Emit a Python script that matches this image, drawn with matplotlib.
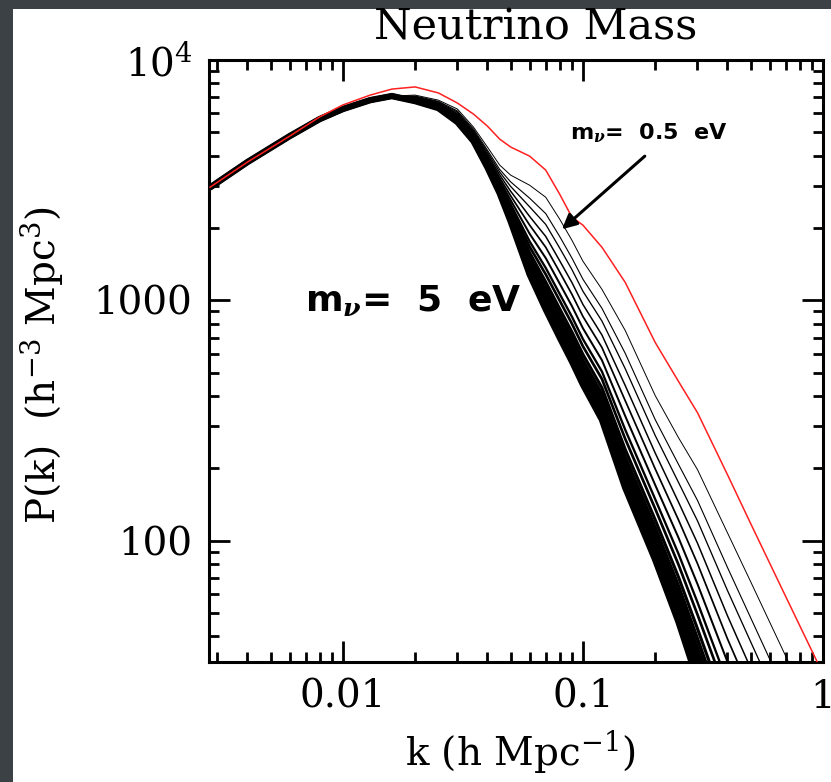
import numpy as np
import matplotlib
matplotlib.use("Agg")
import matplotlib.pyplot as plt
from matplotlib.patches import Rectangle
from matplotlib.ticker import LogLocator, NullFormatter

SLIDE_BG = "#3b4145"
RED = "#ff2020"

plt.rcParams["font.family"] = "DejaVu Serif"
plt.rcParams["mathtext.fontset"] = "dejavuserif"

# k (h/Mpc) where all the massive-neutrino spectra still coincide
k_low = [0.0028, 0.004, 0.006, 0.008, 0.01, 0.013, 0.016]
logp_low = [3.47, 3.575, 3.683, 3.754, 3.796, 3.833, 3.85]

# k past the turnover, where the spectra fan out
k_high = [0.02, 0.025, 0.03, 0.035, 0.04, 0.045, 0.05, 0.06, 0.07, 0.08,
          0.09, 0.1, 0.12, 0.15, 0.2, 0.25, 0.3, 0.4, 0.5, 0.8]

# log10 P(k) on k_high, from the heaviest neutrino (5 eV) to the lightest (0.5 eV)
logp_5ev = [3.829, 3.800, 3.742, 3.663, 3.554, 3.446, 3.329, 3.108, 2.963, 2.846,
            2.746, 2.650, 2.504, 2.221, 1.921, 1.663, 1.421, 1.046, 0.800, 0.300]
logp_f01 = [3.830, 3.802, 3.745, 3.666, 3.558, 3.452, 3.338, 3.126, 2.986, 2.870,
            2.771, 2.675, 2.531, 2.253, 1.954, 1.700, 1.464, 1.094, 0.850, 0.354]
logp_f02 = [3.831, 3.803, 3.747, 3.668, 3.562, 3.457, 3.348, 3.144, 3.008, 2.894,
            2.795, 2.700, 2.557, 2.284, 1.987, 1.737, 1.506, 1.142, 0.900, 0.406]
logp_f03 = [3.833, 3.805, 3.750, 3.671, 3.566, 3.463, 3.357, 3.162, 3.031, 2.918,
            2.820, 2.725, 2.583, 2.316, 2.021, 1.774, 1.549, 1.190, 0.950, 0.460]
logp_f04 = [3.834, 3.806, 3.752, 3.674, 3.570, 3.469, 3.366, 3.180, 3.053, 2.941,
            2.844, 2.749, 2.609, 2.348, 2.054, 1.811, 1.591, 1.237, 1.000, 0.513]
logp_f05 = [3.835, 3.808, 3.755, 3.677, 3.574, 3.474, 3.376, 3.198, 3.076, 2.965,
            2.868, 2.775, 2.636, 2.380, 2.087, 1.849, 1.634, 1.286, 1.050, 0.566]
logp_f06 = [3.837, 3.810, 3.759, 3.681, 3.580, 3.482, 3.389, 3.223, 3.108, 2.999,
            2.903, 2.809, 2.673, 2.424, 2.133, 1.901, 1.693, 1.353, 1.120, 0.641]
logp_f07 = [3.838, 3.812, 3.762, 3.685, 3.585, 3.489, 3.400, 3.245, 3.135, 3.027,
            2.932, 2.839, 2.704, 2.462, 2.173, 1.946, 1.744, 1.410, 1.180, 0.704]
logp_f08 = [3.840, 3.815, 3.767, 3.690, 3.592, 3.499, 3.417, 3.277, 3.176, 3.070,
            2.976, 2.884, 2.751, 2.519, 2.232, 2.013, 1.820, 1.496, 1.269, 0.800]
logp_f09 = [3.843, 3.818, 3.772, 3.695, 3.600, 3.510, 3.435, 3.313, 3.221, 3.118,
            3.025, 2.933, 2.804, 2.583, 2.299, 2.087, 1.905, 1.592, 1.369, 0.906]
logp_f10 = [3.845, 3.821, 3.777, 3.701, 3.608, 3.522, 3.454, 3.349, 3.266, 3.165,
            3.074, 2.983, 2.856, 2.646, 2.365, 2.161, 1.990, 1.688, 1.469, 1.012]
logp_f11 = [3.848, 3.825, 3.783, 3.707, 3.617, 3.534, 3.474, 3.389, 3.316, 3.218,
            3.128, 3.038, 2.914, 2.716, 2.438, 2.243, 2.083, 1.793, 1.579, 1.130]
logp_f12 = [3.850, 3.828, 3.788, 3.713, 3.625, 3.545, 3.493, 3.425, 3.361, 3.266,
            3.176, 3.088, 2.967, 2.780, 2.504, 2.318, 2.168, 1.889, 1.679, 1.236]
logp_05ev = [3.854, 3.833, 3.796, 3.721, 3.638, 3.563, 3.521, 3.479, 3.429, 3.338,
             3.250, 3.163, 3.046, 2.875, 2.604, 2.429, 2.296, 2.033, 1.829, 1.396]

# massless-neutrino reference spectrum
k_red = [0.0028, 0.004, 0.006, 0.008, 0.01, 0.013, 0.016, 0.02, 0.025, 0.03, 0.035,
         0.04, 0.045, 0.05, 0.06, 0.07, 0.08, 0.09, 0.1, 0.12, 0.15, 0.2, 0.25, 0.3,
         0.4, 0.5, 0.7, 1.0]
logp_red = [3.471, 3.575, 3.683, 3.763, 3.813, 3.854, 3.879, 3.888, 3.863, 3.821,
            3.775, 3.725, 3.671, 3.638, 3.600, 3.542, 3.442, 3.346, 3.313, 3.221,
            3.075, 2.825, 2.663, 2.533, 2.275, 2.071, 1.767, 1.446]

x_ticks = [0.01, 0.1, 1]
x_ticklabels = ["0.01", "0.1", "1"]
y_ticks = [100, 1000, 1e4]
y_ticklabels = ["100", "1000", r"$10^4$"]

fan = [logp_5ev, logp_f01, logp_f02, logp_f03, logp_f04, logp_f05, logp_f06,
       logp_f07, logp_f08, logp_f09, logp_f10, logp_f11, logp_f12, logp_05ev]

W, H = 831, 782
fig = plt.figure(figsize=(W / 100, H / 100), dpi=100, facecolor=SLIDE_BG)
fig.patches.append(Rectangle((13 / W, 0), 1, 1 - 9 / H, transform=fig.transFigure,
                             facecolor="white", edgecolor="none", zorder=-10))

ax = fig.add_axes([209 / W, 1 - 662 / H, 614 / W, 602 / H])
ax.patch.set_alpha(0)
ax.set_xscale("log")
ax.set_yscale("log")
ax.set_xlim(0.00277, 1.0)
ax.set_ylim(31.3, 1.0e4)

# thickest line for the heaviest neutrino, thinning towards 0.5 eV
widths = np.geomspace(4.6, 0.7, len(fan))
k_all = np.concatenate([k_low, k_high])
for i, lp in enumerate(fan):
    p = 10 ** np.concatenate([logp_low, lp])
    ax.plot(k_all, p, color="black", lw=widths[i], solid_joinstyle="round",
            solid_capstyle="round", zorder=2 + i * 0.01)
ax.plot(k_red, 10 ** np.array(logp_red), color=RED, lw=1.1, zorder=3)

ax.set_xticks(x_ticks)
ax.set_xticklabels(x_ticklabels)
ax.set_yticks(y_ticks)
ax.set_yticklabels(y_ticklabels)
for axis in (ax.xaxis, ax.yaxis):
    axis.set_minor_locator(LogLocator(base=10, subs=np.arange(2, 10), numticks=20))
    axis.set_minor_formatter(NullFormatter())
ax.tick_params(which="both", direction="in", top=True, right=True, width=2.0,
               labelsize=28)
ax.tick_params(which="major", length=15, pad=12)
ax.tick_params(which="minor", length=7.5)
for s in ax.spines.values():
    s.set_linewidth(2.2)

# labels
fig.text(536 / W, 1 - 27 / H, "Neutrino Mass", ha="center", va="center", fontsize=31)
fig.text(520 / W, 1 - 752 / H, r"k (h Mpc$^{-1}$)", ha="center", va="center", fontsize=28)
fig.text(42 / W, 1 - 365 / H, r"P(k)  (h$^{-3}$ Mpc$^3$)", ha="center", va="center",
         rotation=90, fontsize=28)

ax.text(0.00695, 900, r"m$_{\boldsymbol{\nu}}$=  5  eV", fontsize=26, fontweight="bold",
        family="DejaVu Sans", ha="left", va="baseline")
ax.text(0.0883, 4690, r"m$_{\boldsymbol{\nu}}$=  0.5  eV", fontsize=16, fontweight="bold",
        family="DejaVu Sans", ha="left", va="baseline")
ax.annotate("", xy=(0.0818, 1976), xytext=(0.181, 3981),
            arrowprops=dict(arrowstyle="-|>", color="black", lw=2.2, mutation_scale=22,
                            shrinkA=0, shrinkB=0))

fig.savefig("out.png", dpi=100, facecolor=SLIDE_BG)
